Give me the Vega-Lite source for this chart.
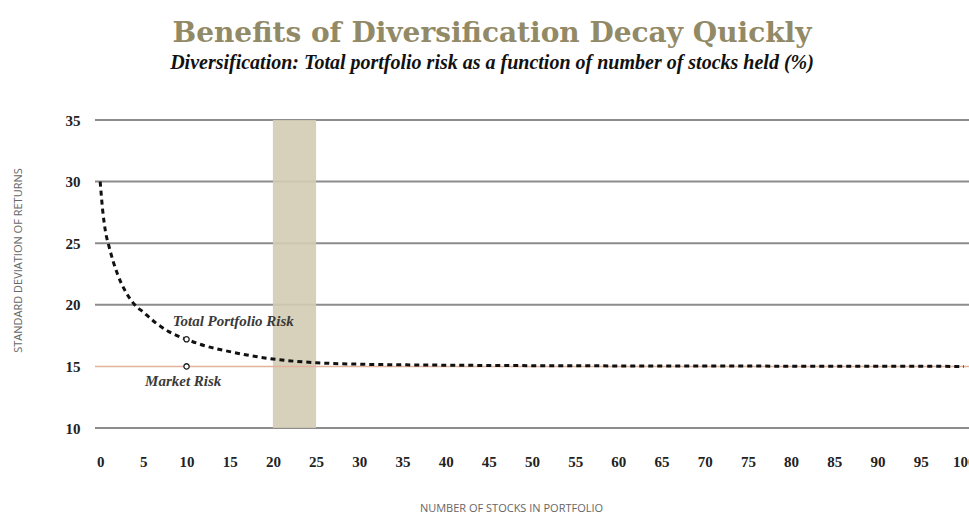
{
  "$schema": "https://vega.github.io/schema/vega-lite/v6.json",
  "width": 874,
  "height": 308,
  "autosize": {"type": "none"},
  "padding": {"left": 95, "top": 120, "right": 0, "bottom": 88},
  "background": "white",
  "config": {"view": {"stroke": null}},
  "title": {
    "text": "Benefits of Diversification Decay Quickly",
    "subtitle": "Diversification: Total portfolio risk as a function of number of stocks held (%)",
    "anchor": "middle",
    "dx": -40,
    "offset": 40,
    "font": "DejaVu Serif",
    "fontSize": 28,
    "fontWeight": "bold",
    "color": "#928a66",
    "subtitleFont": "Liberation Serif",
    "subtitleFontSize": 20,
    "subtitleFontStyle": "italic",
    "subtitleFontWeight": "bold",
    "subtitleColor": "#111111",
    "subtitlePadding": 5
  },
  "datasets": {
    "curve": [
      {"n": 0, "risk": 30.0}, {"n": 0.3, "risk": 27.6}, {"n": 0.6, "risk": 26.0},
      {"n": 1, "risk": 24.8}, {"n": 2, "risk": 22.5}, {"n": 3, "risk": 21.0},
      {"n": 4, "risk": 20.0}, {"n": 5, "risk": 19.4}, {"n": 6.5, "risk": 18.5},
      {"n": 8, "risk": 17.8}, {"n": 10, "risk": 17.2}, {"n": 12, "risk": 16.7},
      {"n": 15, "risk": 16.2}, {"n": 20, "risk": 15.6}, {"n": 25, "risk": 15.3},
      {"n": 30, "risk": 15.18}, {"n": 40, "risk": 15.1}, {"n": 50, "risk": 15.06},
      {"n": 60, "risk": 15.04}, {"n": 80, "risk": 15.02}, {"n": 100, "risk": 15.0}
    ],
    "grid": [{"v": 10}, {"v": 20}, {"v": 25}, {"v": 30}, {"v": 35}],
    "band": [{"from": 20, "to": 25}],
    "market": [{"v": 15}],
    "points": [{"n": 10, "risk": 17.2}, {"n": 10, "risk": 15.0}],
    "labels": [
      {"n": 8.4, "risk": 18.7, "label": "Total Portfolio Risk"},
      {"n": 5.2, "risk": 13.8, "label": "Market Risk"}
    ]
  },
  "encoding": {},
  "layer": [
    {
      "data": {"name": "grid"},
      "mark": {"type": "rule", "color": "#8c8c8c", "strokeWidth": 2},
      "encoding": {
        "y": {
          "field": "v", "type": "quantitative",
          "scale": {"domain": [10, 35], "nice": false, "zero": false},
          "axis": {
            "values": [10, 15, 20, 25, 30, 35],
            "grid": false, "domain": false, "ticks": false,
            "labelFont": "Liberation Serif", "labelFontSize": 15, "labelFontWeight": "bold",
            "labelColor": "#222222", "labelPadding": 15,
            "title": "STANDARD DEVIATION OF RETURNS",
            "titleFont": "Open Sans", "titleFontSize": 11, "titleFontWeight": "normal",
            "titleColor": "#666666", "titleX": -77, "titleY": 140, "titleAngle": -90,
            "titleAlign": "center", "titleBaseline": "middle"
          }
        }
      }
    },
    {
      "data": {"name": "band"},
      "mark": {"type": "rect", "color": "#d3ccb5", "opacity": 0.9},
      "encoding": {
        "x": {"field": "from", "type": "quantitative"},
        "x2": {"field": "to"}
      }
    },
    {
      "data": {"name": "market"},
      "mark": {"type": "rule", "color": "#e2b29c", "strokeWidth": 1.5},
      "encoding": {"y": {"field": "v", "type": "quantitative"}}
    },
    {
      "data": {"name": "curve"},
      "mark": {"type": "line", "color": "#111111", "strokeWidth": 3, "strokeDash": [5, 4], "interpolate": "monotone"},
      "encoding": {
        "x": {
          "field": "n", "type": "quantitative",
          "scale": {"domain": [-0.6, 100.6], "nice": false, "zero": false},
          "axis": {
            "values": [0,5,10,15,20,25,30,35,40,45,50,55,60,65,70,75,80,85,90,95,100],
            "grid": false, "domain": false, "ticks": false,
            "labelFont": "Liberation Serif", "labelFontSize": 15, "labelFontWeight": "bold",
            "labelColor": "#222222", "labelPadding": 26,
            "title": "NUMBER OF STOCKS IN PORTFOLIO",
            "titleFont": "Open Sans", "titleFontSize": 11, "titleFontWeight": "normal",
            "titleColor": "#666666", "titleX": 416, "titleY": 80,
            "titleAlign": "center", "titleBaseline": "middle"
          }
        },
        "y": {"field": "risk", "type": "quantitative"}
      }
    },
    {
      "data": {"name": "points"},
      "mark": {"type": "point", "shape": "circle", "filled": true, "fill": "white", "stroke": "#222222", "strokeWidth": 1.3, "size": 28, "opacity": 1},
      "encoding": {
        "x": {"field": "n", "type": "quantitative"},
        "y": {"field": "risk", "type": "quantitative"}
      }
    },
    {
      "data": {"name": "labels"},
      "mark": {"type": "text", "align": "left", "baseline": "middle", "font": "Liberation Serif", "fontSize": 15, "fontStyle": "italic", "fontWeight": "bold", "color": "#3a3a3a"},
      "encoding": {
        "x": {"field": "n", "type": "quantitative"},
        "y": {"field": "risk", "type": "quantitative"},
        "text": {"field": "label"}
      }
    }
  ]
}
